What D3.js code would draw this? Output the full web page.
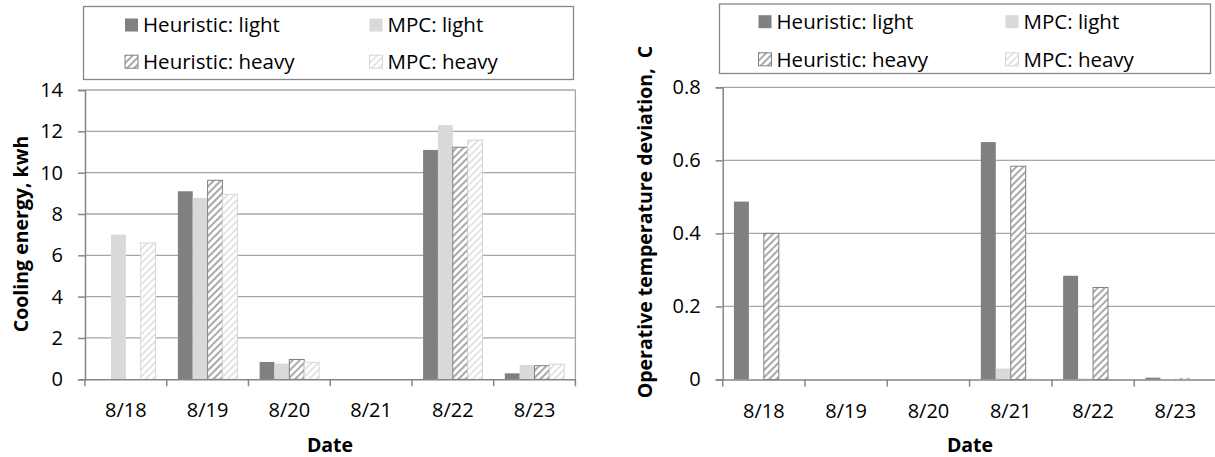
<!DOCTYPE html>
<meta charset="utf-8">

<!-- Load d3.js -->
<script src="https://d3js.org/d3.v7.min.js"></script>

<style>
body { margin: 0; background: #fff; }
text { font-family: "Open Sans", sans-serif; fill: #000; }
.tick text { font-size: 20px; }
.axis-title { font-size: 19.5px; font-weight: bold; white-space: pre; }
.legend text { font-size: 20.5px; }
</style>

<div id="my_dataviz"></div>

<script>

// categories and series
var dates = ["8/18", "8/19", "8/20", "8/21", "8/22", "8/23"];
var seriesNames = ["Heuristic: light", "MPC: light", "Heuristic: heavy", "MPC: heavy"];

// cooling energy, kwh (left chart)
var energyHeuristicLight = [0, 9.1, 0.84, 0, 11.1, 0.29];
var energyMpcLight       = [7.0, 8.78, 0.76, 0, 12.3, 0.69];
var energyHeuristicHeavy = [0, 9.63, 0.96, 0, 11.23, 0.66];
var energyMpcHeavy       = [6.6, 8.95, 0.82, 0, 11.57, 0.73];

// operative temperature deviation, C (right chart)
var devHeuristicLight = [0.487, 0, 0, 0.65, 0.284, 0.005];
var devMpcLight       = [0, 0, 0, 0.03, 0.003, 0];
var devHeuristicHeavy = [0.40, 0, 0, 0.584, 0.252, 0.004];
var devMpcHeavy       = [0, 0, 0, 0.003, 0, 0];

// y tick labels
var energyTicks = [0, 2, 4, 6, 8, 10, 12, 14];
var devTicks = [0, 0.2, 0.4, 0.6, 0.8];

var svg = d3.select("#my_dataviz")
  .append("svg")
    .attr("width", 1215)
    .attr("height", 457);

// hatch patterns for the "heavy" series
var defs = svg.append("defs");
function addHatch(id, color) {
  var p = defs.append("pattern")
    .attr("id", id)
    .attr("patternUnits", "userSpaceOnUse")
    .attr("width", 5)
    .attr("height", 5)
    .attr("patternTransform", "rotate(45)");
  p.append("rect").attr("width", 5).attr("height", 5).attr("fill", "#fff");
  p.append("line")
    .attr("x1", 1).attr("y1", 0).attr("x2", 1).attr("y2", 5)
    .attr("stroke", color)
    .attr("stroke-width", 1.5);
}
addHatch("hatchDark", "#8c8c8c");
addHatch("hatchLight", "#dcdcdc");

var fills = ["#808080", "#d9d9d9", "url(#hatchDark)", "url(#hatchLight)"];
var strokes = ["none", "none", "#808080", "#d6d6d6"];

function drawChart(opt) {
  var g = svg.append("g");

  var x0 = d3.scaleBand()
    .domain(dates)
    .range([opt.left, opt.right]);

  // Excel-like gap width 150%
  var bw = x0.bandwidth();
  var barW = bw / 5.5;
  var x1 = d3.scaleBand()
    .domain(d3.range(seriesNames.length))
    .range([barW * 0.75, bw - barW * 0.75]);

  var y = d3.scaleLinear()
    .domain([0, opt.max])
    .range([opt.bottom, opt.top]);

  // gridlines
  g.append("g")
    .selectAll("line")
    .data(opt.ticks.slice(1))
    .enter()
    .append("line")
      .attr("x1", opt.left)
      .attr("x2", opt.right)
      .attr("y1", function(d) { return y(d); })
      .attr("y2", function(d) { return y(d); })
      .attr("stroke", "#a6a6a6")
      .attr("stroke-width", 1.3);

  // right border of plot area
  g.append("line")
    .attr("x1", opt.right).attr("x2", opt.right)
    .attr("y1", opt.top).attr("y2", opt.bottom)
    .attr("stroke", "#a6a6a6")
    .attr("stroke-width", 1.3);

  // bars
  var rows = dates.map(function(d, i) {
    return opt.values.map(function(s, k) { return {date: d, k: k, v: s[i]}; });
  });
  g.append("g")
    .selectAll("g")
    .data(rows)
    .enter()
    .append("g")
      .attr("transform", function(d, i) { return "translate(" + x0(dates[i]) + ",0)"; })
    .selectAll("rect")
    .data(function(d) { return d; })
    .enter()
    .append("rect")
      .attr("x", function(d) { return x1(d.k); })
      .attr("width", x1.bandwidth())
      .attr("y", function(d) { return y(d.v); })
      .attr("height", function(d) { return y(0) - y(d.v); })
      .attr("fill", function(d) { return fills[d.k]; })
      .attr("stroke", function(d) { return d.v > 0.02 * opt.max ? strokes[d.k] : "none"; })
      .attr("stroke-width", 1);

  // x axis
  var xAxis = g.append("g")
    .attr("transform", "translate(0," + opt.bottom + ")")
    .call(d3.axisBottom(x0).tickSize(0).tickPadding(31));
  xAxis.select(".domain").attr("stroke", "#868686").attr("stroke-width", 1.5);
  xAxis.selectAll(".tick text").attr("dy", "0.36em");
  xAxis.selectAll("line.sep")
    .data(d3.range(dates.length + 1))
    .enter()
    .append("line")
      .attr("class", "sep")
      .attr("x1", function(i) { return opt.left + i * bw; })
      .attr("x2", function(i) { return opt.left + i * bw; })
      .attr("y1", 0)
      .attr("y2", 7)
      .attr("stroke", "#868686")
      .attr("stroke-width", 1.5);

  // y axis
  var yAxis = g.append("g")
    .attr("transform", "translate(" + opt.left + ",0)")
    .call(d3.axisLeft(y).tickValues(opt.ticks).tickFormat(opt.format).tickSize(7).tickPadding(15));
  yAxis.select(".domain").attr("stroke", "#868686").attr("stroke-width", 1.5);
  yAxis.selectAll(".tick line").attr("stroke", "#868686").attr("stroke-width", 1.5);

  // axis titles
  g.append("text")
    .attr("class", "axis-title")
    .attr("text-anchor", "middle")
    .attr("x", opt.dateX)
    .attr("y", 452)
    .text("Date");

  g.append("text")
    .attr("class", "axis-title")
    .attr("text-anchor", "middle")
    .attr("transform", "translate(" + opt.yTitleX + "," + opt.yTitleY + ") rotate(-90)")
    .attr("dy", "0.35em")
    .text(opt.yTitle);

  // legend
  var lg = g.append("g").attr("class", "legend");
  lg.append("rect")
    .attr("x", opt.legend.x)
    .attr("y", opt.legend.y)
    .attr("width", opt.legend.w)
    .attr("height", opt.legend.h)
    .attr("fill", "#fff")
    .attr("stroke", "#868686")
    .attr("stroke-width", 1.3);

  var items = lg.selectAll("g.item")
    .data(seriesNames)
    .enter()
    .append("g")
      .attr("class", "item")
      .attr("transform", function(d, i) {
        return "translate(" + opt.legend.cols[i % 2] + "," + opt.legend.rows[Math.floor(i / 2)] + ")";
      });
  items.append("rect")
    .attr("x", 0)
    .attr("y", -6.5)
    .attr("width", 13)
    .attr("height", 13)
    .attr("fill", function(d, i) { return fills[i]; })
    .attr("stroke", function(d, i) { return strokes[i]; });
  items.append("text")
    .attr("x", 18)
    .attr("y", 0)
    .attr("dy", "0.36em")
    .text(function(d) { return d; });
}

// left chart: cooling energy
drawChart({
  left: 85, right: 575.4, top: 90, bottom: 379.3,
  max: 14, ticks: energyTicks, format: d3.format("d"),
  values: [energyHeuristicLight, energyMpcLight, energyHeuristicHeavy, energyMpcHeavy],
  yTitle: "Cooling energy, kwh", yTitleX: 21, yTitleY: 234,
  dateX: 330,
  legend: {x: 83.5, y: 6.5, w: 490, h: 73, cols: [125, 369.5], rows: [25, 61.7]}
});

// right chart: temperature deviation
drawChart({
  left: 722.7, right: 1216.5, top: 87.3, bottom: 379.5,
  max: 0.8, ticks: devTicks, format: function(d) { return d === 0 ? "0" : d3.format(".1f")(d); },
  values: [devHeuristicLight, devMpcLight, devHeuristicHeavy, devMpcHeavy],
  yTitle: "Operative temperature deviation,  C", yTitleX: 645, yTitleY: 222,
  dateX: 970,
  legend: {x: 719.5, y: 4, w: 491, h: 69.5, cols: [758.5, 1005.5], rows: [21.7, 59.3]}
});

</script>
